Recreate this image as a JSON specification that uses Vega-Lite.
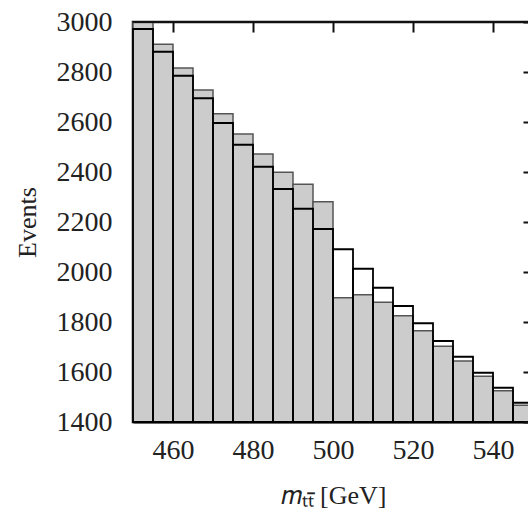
{
  "$schema": "https://vega.github.io/schema/vega-lite/v6.json",
  "width": 400,
  "height": 400,
  "autosize": {"type": "none"},
  "padding": {"left": 133, "top": 22, "right": 10, "bottom": 94},
  "background": "white",
  "config": {
    "view": {"stroke": "#111111", "strokeWidth": 2.5},
    "font": "Liberation Serif",
    "axis": {
      "domainColor": "#111111",
      "domainWidth": 2,
      "tickColor": "#111111",
      "tickWidth": 2,
      "grid": false,
      "labelFont": "Liberation Serif",
      "labelFontSize": 28,
      "labelColor": "#222",
      "titleFont": "Liberation Serif",
      "titleFontWeight": "normal",
      "titleColor": "#222"
    }
  },
  "data": {
    "values": [
      {"lo": 450, "hi": 455, "gray": 2998, "outline": 2972},
      {"lo": 455, "hi": 460, "gray": 2911, "outline": 2881},
      {"lo": 460, "hi": 465, "gray": 2816, "outline": 2785},
      {"lo": 465, "hi": 470, "gray": 2728, "outline": 2695},
      {"lo": 470, "hi": 475, "gray": 2633, "outline": 2596},
      {"lo": 475, "hi": 480, "gray": 2552, "outline": 2509},
      {"lo": 480, "hi": 485, "gray": 2472, "outline": 2421},
      {"lo": 485, "hi": 490, "gray": 2399, "outline": 2332},
      {"lo": 490, "hi": 495, "gray": 2351, "outline": 2253},
      {"lo": 495, "hi": 500, "gray": 2281, "outline": 2172},
      {"lo": 500, "hi": 505, "gray": 1897, "outline": 2091},
      {"lo": 505, "hi": 510, "gray": 1909, "outline": 2013},
      {"lo": 510, "hi": 515, "gray": 1879, "outline": 1937},
      {"lo": 515, "hi": 520, "gray": 1825, "outline": 1864},
      {"lo": 520, "hi": 525, "gray": 1765, "outline": 1795},
      {"lo": 525, "hi": 530, "gray": 1703, "outline": 1724},
      {"lo": 530, "hi": 535, "gray": 1644, "outline": 1661},
      {"lo": 535, "hi": 540, "gray": 1583, "outline": 1597},
      {"lo": 540, "hi": 545, "gray": 1525, "outline": 1537},
      {"lo": 545, "hi": 550, "gray": 1467, "outline": 1477}
    ]
  },
  "layer": [
    {
      "mark": {"type": "bar", "fill": "#cccccc", "stroke": "#555555", "strokeWidth": 1.5},
      "encoding": {
        "x": {
          "field": "lo", "type": "quantitative",
          "scale": {"domain": [450, 550], "nice": false},
          "axis": {"orient": "bottom", "values": [460, 480, 500, 520, 540], "format": "d", "ticks": false, "labelPadding": 14, "title": "𝑚ₜₜ̄ [GeV]", "titleFontSize": 26, "titlePadding": 18}
        },
        "x2": {"field": "hi"},
        "y": {
          "field": "gray", "type": "quantitative",
          "scale": {"domain": [1400, 3000], "nice": false, "zero": false},
          "axis": {"orient": "left", "values": [1400, 1600, 1800, 2000, 2200, 2400, 2600, 2800, 3000], "format": "d", "ticks": false, "labelPadding": 21, "title": "Events", "titleFontSize": 26, "titlePadding": 16}
        },
        "y2": {"datum": 1400}
      }
    },
    {
      "mark": {"type": "bar", "fill": null, "fillOpacity": 0, "stroke": "black", "strokeWidth": 1.8},
      "encoding": {
        "x": {
          "field": "lo", "type": "quantitative",
          "axis": {"orient": "top", "values": [460, 480, 500, 520, 540], "labels": false, "ticks": true, "tickSize": 10, "offset": -10, "domain": false, "title": null, "zindex": 1}
        },
        "x2": {"field": "hi"},
        "y": {
          "field": "outline", "type": "quantitative",
          "axis": {"orient": "right", "values": [1400, 1600, 1800, 2000, 2200, 2400, 2600, 2800, 3000], "labels": false, "tickSize": -10, "title": null, "zindex": 1}
        },
        "y2": {"datum": 1400}
      }
    },
    {
      "mark": {"type": "rule", "color": "#111111", "strokeWidth": 2},
      "encoding": {
        "y": {"datum": 3000, "type": "quantitative", "axis": null}
      }
    }
  ],
  "resolve": {"axis": {"x": "independent", "y": "independent"}}
}
